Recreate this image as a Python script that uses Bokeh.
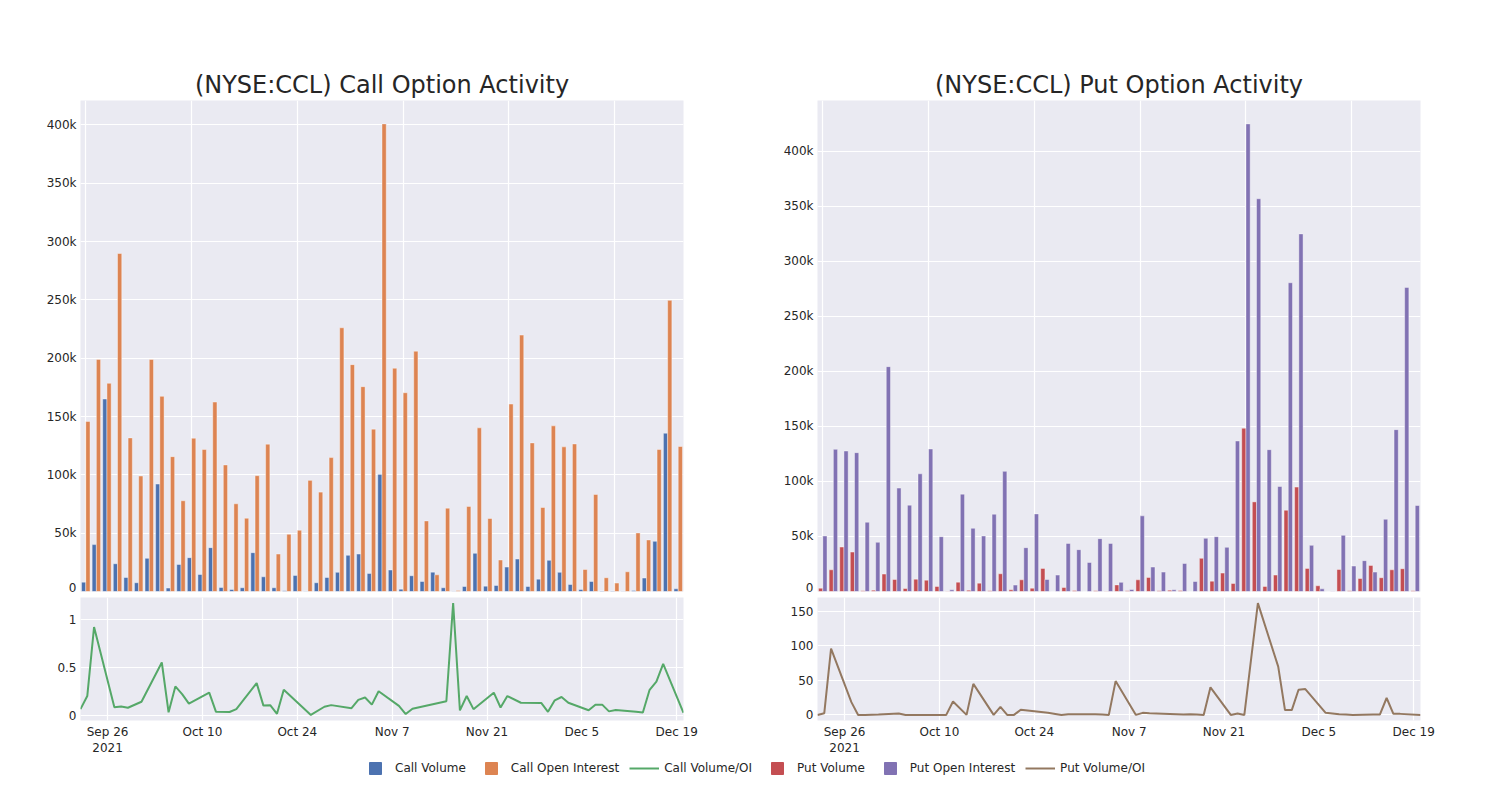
import numpy as np
import pandas as pd
from bokeh.plotting import figure
from bokeh.layouts import column, row
from bokeh.models import (Range1d, FixedTicker, NumeralTickFormatter, Legend,
                          LegendItem, ColumnDataSource)
from bokeh.transform import dodge
from bokeh.embed import file_html
from bokeh.resources import INLINE

# ---------------- data ----------------
dates = [
    "2021-09-22", "2021-09-23", "2021-09-24", "2021-09-27", "2021-09-28", "2021-09-29",
    "2021-10-01", "2021-10-04", "2021-10-05", "2021-10-06", "2021-10-07", "2021-10-08",
    "2021-10-11", "2021-10-12", "2021-10-14", "2021-10-15", "2021-10-18", "2021-10-19",
    "2021-10-20", "2021-10-21", "2021-10-22", "2021-10-26", "2021-10-28", "2021-10-29",
    "2021-11-01", "2021-11-02", "2021-11-03", "2021-11-04", "2021-11-05", "2021-11-08",
    "2021-11-09", "2021-11-10", "2021-11-15", "2021-11-16", "2021-11-17", "2021-11-18",
    "2021-11-19", "2021-11-22", "2021-11-23", "2021-11-24", "2021-11-26", "2021-11-29",
    "2021-11-30", "2021-12-01", "2021-12-02", "2021-12-03", "2021-12-06", "2021-12-07",
    "2021-12-08", "2021-12-09", "2021-12-10", "2021-12-13", "2021-12-14", "2021-12-15",
    "2021-12-16", "2021-12-17", "2021-12-20",
]

# thousands of contracts
call_volume_k = [8.0, 40.2, 165.0, 23.8, 12.0, 7.5, 28.4, 92.1, 2.9, 23.2,
                 29.0, 14.6, 37.6, 3.4, 1.7, 3.2, 33.3, 12.6, 3.2, 0.6,
                 13.8, 0.3, 7.5, 12.0, 16.4, 31.0, 32.1, 15.5, 100.4, 18.4,
                 2.0, 13.5, 8.6, 16.6, 3.2, 0.18, 4.3, 32.7, 4.6, 5.2,
                 20.9, 27.8, 4.3, 10.6, 26.7, 16.4, 6.0, 1.7, 8.6, 0.5,
                 0.4, 0.3, 0.9, 11.5, 43.0, 135.7, 2.3]
call_oi_k = [145.8, 199.0, 178.5, 289.8, 131.7, 99.0, 198.9, 167.3, 115.6, 77.8,
             131.4, 121.7, 162.4, 108.5, 75.2, 62.8, 99.3, 126.3, 32.1, 49.1,
             52.5, 95.3, 85.2, 114.8, 226.1, 194.5, 175.6, 139.2, 400.9, 191.4,
             170.4, 206.0, 60.5, 14.3, 71.4, 0.9, 72.9, 140.3, 62.6, 27.0,
             160.7, 219.8, 127.4, 72.0, 142.0, 124.0, 126.5, 18.9, 83.2, 11.8,
             7.2, 16.9, 50.2, 44.2, 121.7, 249.6, 124.3]
call_ratio = [0.063, 0.20, 0.92, 0.082, 0.09, 0.078, 0.14, 0.55, 0.03, 0.30,
              0.22, 0.12, 0.235, 0.035, 0.033, 0.063, 0.335, 0.10, 0.105, 0.015,
              0.265, 0.003, 0.088, 0.105, 0.073, 0.16, 0.185, 0.11, 0.25, 0.097,
              0.012, 0.068, 0.145, 1.17, 0.05, 0.20, 0.063, 0.235, 0.08, 0.20,
              0.13, 0.128, 0.035, 0.155, 0.19, 0.13, 0.052, 0.11, 0.11, 0.04,
              0.055, 0.035, 0.028, 0.265, 0.35, 0.535, 0.025]

put_volume_k = [3.0, 19.7, 40.4, 35.8, 0.6, 1.2, 15.8, 10.9, 2.7, 11.2,
                10.3, 4.6, 0.3, 8.5, 1.2, 7.6, 0.6, 16.1, 1.5, 10.6,
                3.0, 21.0, 0.1, 3.6, 0.9, 0.1, 0.6, 0.3, 6.0, 0.6,
                10.6, 12.8, 0.6, 1.2, 0.9, 0.1, 30.1, 9.4, 16.7, 7.3,
                148.3, 81.4, 4.6, 14.9, 73.8, 94.8, 21.0, 5.2, 0.1, 20.0,
                0.6, 11.8, 23.7, 12.5, 19.7, 20.7, 0.6]
put_oi_k = [50.4, 129.1, 127.6, 126.1, 62.9, 44.7, 204.2, 93.9, 78.4, 106.9,
            129.4, 49.8, 1.5, 88.4, 57.4, 50.4, 70.2, 109.1, 5.8, 39.8,
            70.5, 10.9, 14.9, 43.7, 38.0, 26.4, 48.0, 43.7, 8.3, 1.8,
            68.7, 22.2, 17.6, 1.5, 25.5, 9.1, 48.3, 49.8, 40.1, 136.7,
            424.7, 356.7, 128.8, 95.4, 280.4, 324.8, 41.9, 2.4, 0.2, 51.0,
            23.1, 28.0, 17.6, 65.6, 147.0, 276.2, 78.1]
put_ratio = [0, 2.5, 96, 18.5, 0, 0, 0.5, 2, 0, 0,
             0, 0, 0, 19.5, 0, 45, 0, 11.5, 0, 0,
             7.5, 3, 0, 1, 1, 1, 0.5, 0, 49, 0,
             3, 2.5, 0.5, 1, 0.5, 0, 40, 0, 2, 0,
             162, 70, 7, 7, 36.5, 37.5, 3, 2, 1, 0.5,
             0, 0.5, 0.5, 24.5, 1.5, 1.5, 0]

date_ticks = ["2021-09-26", "2021-10-10", "2021-10-24", "2021-11-07",
              "2021-11-21", "2021-12-05", "2021-12-19"]
date_tick_labels = ["Sep 26\n2021", "Oct 10", "Oct 24", "Nov 7",
                    "Nov 21", "Dec 5", "Dec 19"]

titles = ["(NYSE:CCL) Call Option Activity", "(NYSE:CCL) Put Option Activity"]
legend_labels = ["Call Volume", "Call Open Interest", "Call Volume/OI",
                 "Put Volume", "Put Open Interest", "Put Volume/OI"]

# ---------------- style ----------------
FONT = "DejaVu Sans"
BG = "#EAEAF2"
TXT = "#262626"
C_BLUE, C_ORANGE, C_GREEN = "#4C72B0", "#DD8452", "#55A868"
C_RED, C_PURPLE, C_BROWN = "#C44E52", "#8172B3", "#937860"

FRAME_W = 603
TOP_H = 491
BOT_H = 123
L1, L2, R = 80, 114, 20
TOP_B = 100
BOT_B = 40

dt = pd.to_datetime(dates)
n = len(dates)
idx = np.arange(n)
tick_ms = [float(pd.Timestamp(d).value // 10**6) for d in date_ticks]


def style(p):
    p.background_fill_color = BG
    p.border_fill_color = "white"
    p.outline_line_color = None
    p.grid.grid_line_color = "white"
    p.grid.grid_line_width = 1.2
    for ax in p.axis:
        ax.axis_line_color = None
        ax.major_tick_line_color = None
        ax.minor_tick_line_color = None
        ax.major_tick_out = 0
        ax.major_tick_in = 0
        ax.minor_tick_out = 0
        ax.major_label_text_font = FONT
        ax.major_label_text_font_size = "12px"
        ax.major_label_text_color = TXT
        ax.major_label_standoff = 4


def bar_fig(title, vol, oi, c1, c2, left, right, yticks):
    vol = np.array(vol) * 1000
    oi = np.array(oi) * 1000
    src = ColumnDataSource(dict(idx=idx, vol=vol, oi=oi))
    ymax = max(vol.max(), oi.max()) * 1.05
    p = figure(width=left + FRAME_W + right, height=TOP_B + TOP_H + 3,
               x_range=Range1d(-0.5, n - 0.5), y_range=Range1d(0, ymax),
               output_backend="svg", toolbar_location=None,
               min_border_left=left, min_border_right=right,
               min_border_top=TOP_B, min_border_bottom=3)
    p.title.text = title
    p.title.align = "center"
    p.title.text_font = FONT
    p.title.text_font_size = "24px"
    p.title.text_font_style = "normal"
    p.title.text_color = TXT
    p.title.standoff = 4
    p.vbar(x=dodge("idx", -0.2, range=p.x_range), top="vol", width=0.4, source=src,
           fill_color=c1, line_color="white", line_alpha=0.5, line_width=0.8)
    p.vbar(x=dodge("idx", 0.2, range=p.x_range), top="oi", width=0.4, source=src,
           fill_color=c2, line_color="white", line_alpha=0.5, line_width=0.8)
    p.yaxis.ticker = FixedTicker(ticks=yticks)
    p.yaxis.formatter = NumeralTickFormatter(format="0a")
    p.xaxis.ticker = FixedTicker(ticks=list(range(0, n, 10)))
    style(p)
    p.xaxis.visible = False
    p.xgrid.ticker = FixedTicker(ticks=list(range(0, n, 10)))
    return p


def line_fig(ratio, color, left, right, yticks, fmt):
    r = np.array(ratio, dtype=float)
    span = r.max() - r.min()
    p = figure(width=left + FRAME_W + right, height=3 + BOT_H + BOT_B,
               x_axis_type="datetime",
               x_range=Range1d(dt[0], dt[-1]),
               y_range=Range1d(r.min() - 0.05 * span, r.max() + 0.05 * span),
               output_backend="svg", toolbar_location=None,
               min_border_left=left, min_border_right=right,
               min_border_top=3, min_border_bottom=BOT_B)
    p.line(dt, r, color=color, line_width=2)
    p.yaxis.ticker = FixedTicker(ticks=yticks)
    p.yaxis.formatter = NumeralTickFormatter(format=fmt)
    p.xaxis.ticker = FixedTicker(ticks=tick_ms)
    p.xaxis.major_label_overrides = {t: l for t, l in zip(tick_ms, date_tick_labels)}
    style(p)
    return p


ytk = [0, 50000, 100000, 150000, 200000, 250000, 300000, 350000, 400000]
call_top = bar_fig(titles[0], call_volume_k, call_oi_k, C_BLUE, C_ORANGE, L1, R, ytk)
call_bot = line_fig(call_ratio, C_GREEN, L1, R, [0, 0.5, 1], "0.[0]")
put_top = bar_fig(titles[1], put_volume_k, put_oi_k, C_RED, C_PURPLE, L2, R, ytk)
put_bot = line_fig(put_ratio, C_BROWN, L2, R, [0, 50, 100, 150], "0")

# ---------------- legend ----------------
LW = L1 + FRAME_W + R + L2 + FRAME_W + R
lg = figure(width=LW, height=34, x_range=Range1d(0, 1), y_range=Range1d(0, 1),
            output_backend="svg", toolbar_location=None, min_border=0)
lg.axis.visible = False
lg.grid.visible = False
lg.outline_line_color = None
lg.background_fill_color = "white"
lg.border_fill_color = "white"
r1 = lg.scatter([5], [5], marker="square", size=12, color=C_BLUE)
r2 = lg.scatter([5], [5], marker="square", size=12, color=C_ORANGE)
r3 = lg.line([5, 6], [5, 5], color=C_GREEN, line_width=2)
r4 = lg.scatter([5], [5], marker="square", size=12, color=C_RED)
r5 = lg.scatter([5], [5], marker="square", size=12, color=C_PURPLE)
r6 = lg.line([5, 6], [5, 5], color=C_BROWN, line_width=2)
legend = Legend(
    items=[LegendItem(label=l, renderers=[r]) for l, r in
           zip(legend_labels, [r1, r2, r3, r4, r5, r6])],
    orientation="horizontal", location=(360, 11),
    glyph_width=30, glyph_height=30, label_height=30, label_standoff=5,
    spacing=10, padding=0, margin=0, border_line_color=None,
    background_fill_alpha=0, label_text_font=FONT, label_text_font_size="12px",
    label_text_color=TXT)
lg.add_layout(legend, "center")

layout = column(
    row(column(call_top, call_bot, spacing=0), column(put_top, put_bot, spacing=0), spacing=0),
    lg, spacing=0)

open("out.html", "w").write(file_html(layout, INLINE))
